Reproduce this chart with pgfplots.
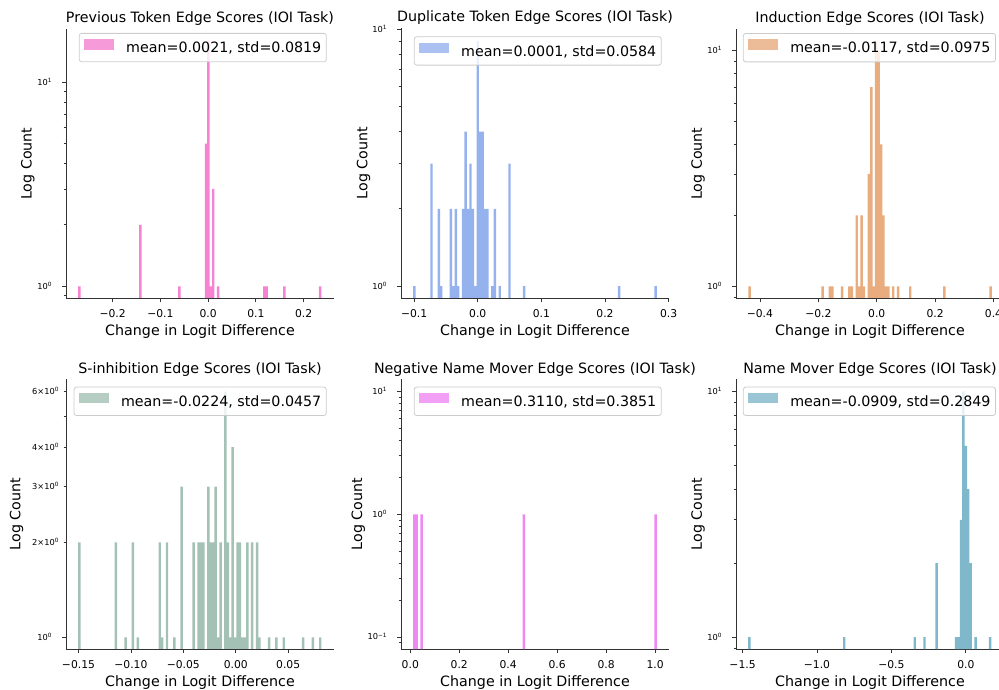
\documentclass[border=0pt]{standalone}
\usepackage{fontspec}
\setmainfont{DejaVu Sans}
\usepackage{pgfplots}
\pgfplotsset{compat=1.18}
\definecolor{c1}{RGB}{246,130,209}
\definecolor{c2}{RGB}{150,178,238}
\definecolor{c3}{RGB}{232,172,127}
\definecolor{c4}{RGB}{164,193,182}
\definecolor{c5}{RGB}{238,137,243}
\definecolor{c6}{RGB}{128,184,203}
\definecolor{spine}{RGB}{51,51,51}
\definecolor{legframe}{RGB}{204,204,204}
\newcommand\lfont{\fontsize{14.3}{17}\selectfont}
\newcommand\xfont{\fontsize{10.8}{13}\selectfont}
\newcommand\yfont{\fontsize{8.3}{10}\selectfont}
\newcommand\tsup[1]{\textsuperscript{#1}}
\pgfplotsset{
  histax/.style={
    scale only axis, width=268bp,
    axis x line*=bottom, axis y line*=left,
    axis line style={-, draw=spine, line width=0.8bp},
    every tick/.append style={draw=spine, line width=0.8bp},
    tick align=outside,
    major tick length=4.2bp, minor tick length=2.4bp,
    xlabel={Change in Logit Difference}, ylabel={Log Count},
    xlabel style={font=\lfont, at={(axis description cs:0.5,-0.1400)}, anchor=base},
    ylabel style={font=\lfont, anchor=base},
    every axis title/.style={at={(axis description cs:0.5,1)}, anchor=base, font=\lfont},
    xticklabel style={font=\xfont, anchor=base, inner sep=0pt},
    xticklabel shift=15.5bp,
    yticklabel style={font=\yfont, anchor=east, inner sep=0pt, text height=6bp, text depth=0bp},
    yticklabel shift=9.5bp,
    legend cell align=left,
    legend style={font=\lfont, draw=legframe, line width=0.8bp, rounded corners=2.5bp,
      fill=white, fill opacity=0.8, draw opacity=1, text opacity=1,
      inner xsep=5bp, inner ysep=6bp, anchor=north east,
      nodes={inner sep=0pt, text height=11bp, text depth=3bp}},
  },
}
\newcommand\legimg{\fill[sharp corners] (-3bp,-1bp) rectangle (27bp,9.4bp); \path (39bp,0bp);}
\begin{document}
\begin{tikzpicture}
% ---------------- Panel 1
\begin{axis}[histax, ymode=log, log origin y=infty, at={(66bp,392bp)}, height=268.5bp,
  xmin=-0.2975, xmax=0.2635, ymin=0.876, ymax=18.16,
  xtick={-0.2,-0.1,0,0.1,0.2}, xticklabels={−0.2,−0.1,0.0,0.1,0.2},
  ytick={1,10}, yticklabels={10\tsup{0},10\tsup{1}}, minor ytick={0.9,2,3,4,5,6,7,8,9},
  title={Previous Token Edge Scores (IOI Task)},
  title style={at={(axis description cs:0.5,1.026)}},
  ylabel style={at={(axis description cs:-0.1287,0.5)}},
  legend style={at={(axis description cs:0.9728,0.987)}},
]
\addplot[ybar, bar width=0.0051, fill=c1, draw=none, legend image code/.code={\legimg}] coordinates {
(-0.2695,1) (-0.142,2) (-0.060,1) (-0.0045,5) (0.0005,16) (0.0056,1) (0.0107,3) (0.021,1) (0.1175,1) (0.1226,1) (0.1595,1) (0.2345,1)};
\addlegendentry{mean=0.0021, std=0.0819}
\end{axis}
% ---------------- Panel 2
\begin{axis}[histax, ymode=log, log origin y=infty, at={(401bp,392bp)}, height=269.5bp,
  xmin=-0.1207, xmax=0.3006, ymin=0.900, ymax=10.07,
  xtick={-0.1,0,0.1,0.2,0.3}, xticklabels={−0.1,0.0,0.1,0.2,0.3},
  ytick={1,10}, yticklabels={10\tsup{0},10\tsup{1}}, minor ytick={2,3,4,5,6,7,8,9},
  title={Duplicate Token Edge Scores (IOI Task)},
  title style={at={(axis description cs:0.5,1.026)}},
  ylabel style={at={(axis description cs:-0.1257,0.5)}},
  legend style={at={(axis description cs:0.9728,0.971)}},
]
\addplot[ybar, bar width=0.0038, fill=c2, draw=none, legend image code/.code={\legimg}] coordinates {
(-0.0996,1) (-0.0728,3) (-0.0613,2) (-0.0575,1) (-0.0422,2) (-0.0383,1) (-0.0345,2) (-0.0307,1)
(-0.0230,2) (-0.0192,4) (-0.0153,2) (-0.0115,3) (-0.0077,2) (-0.0039,1) (0.0000,9) (0.0038,4)
(0.0076,4) (0.0115,2) (0.0153,2) (0.0230,1) (0.0268,2) (0.0345,1) (0.0498,3) (0.0728,1)
(0.2221,1) (0.2796,1)};
\addlegendentry{mean=0.0001, std=0.0584}
\end{axis}
% ---------------- Panel 3
\begin{axis}[histax, ymode=log, log origin y=infty, at={(736bp,392bp)}, height=268.7bp,
  xmin=-0.482, xmax=0.436, ymin=0.892, ymax=12.33,
  xtick={-0.4,-0.2,0,0.2,0.4}, xticklabels={−0.4,−0.2,0.0,0.2,0.4},
  ytick={1,10}, yticklabels={10\tsup{0},10\tsup{1}}, minor ytick={0.9,2,3,4,5,6,7,8,9},
  title={Induction Edge Scores (IOI Task)},
  title style={at={(axis description cs:0.5,1.026)}},
  ylabel style={at={(axis description cs:-0.1269,0.5)}},
  legend style={at={(axis description cs:0.970,0.986)}},
]
\addplot[ybar, bar width=0.0083, fill=c3, draw=none, legend image code/.code={\legimg}] coordinates {
(-0.4355,1) (-0.1853,1) (-0.1603,1) (-0.1519,1) (-0.1186,1) (-0.0936,1) (-0.0852,1) (-0.0685,2)
(-0.0602,1) (-0.0519,2) (-0.0435,1) (-0.0268,3) (-0.0185,7) (-0.0102,1) (-0.0018,11) (0.0065,10)
(0.0149,4) (0.0232,2) (0.0316,1) (0.0399,1) (0.0566,1) (0.0732,1) (0.1149,1) (0.2317,1) (0.3902,1)};
\addlegendentry{mean=-0.0117, std=0.0975}
\end{axis}
% ---------------- Panel 4
\begin{axis}[histax, ymode=log, log origin y=infty, at={(66bp,41bp)}, height=270bp,
  xmin=-0.1619, xmax=0.0937, ymin=0.918, ymax=6.58,
  xtick={-0.15,-0.10,-0.05,0,0.05}, xticklabels={−0.15,−0.10,−0.05,0.00,0.05},
  ytick={1}, yticklabels={10\tsup{0}}, minor ytick={5},
  extra y ticks={2,3,4,6},
  extra y tick labels={2×10\tsup{0},3×10\tsup{0},4×10\tsup{0},6×10\tsup{0}},
  extra y tick style={major tick length=2.4bp, yticklabel shift=4.3bp},
  title={S-inhibition Edge Scores (IOI Task)},
  title style={at={(axis description cs:0.5,1.022)}},
  ylabel style={at={(axis description cs:-0.1705,0.5)}},
  legend style={at={(axis description cs:0.9728,0.9715)}},
]
\addplot[ybar, bar width=0.00232, fill=c4, draw=none, legend image code/.code={\legimg}] coordinates {
(-0.1491,2) (-0.1143,2) (-0.1050,1) (-0.0981,2) (-0.0934,1) (-0.0725,2) (-0.0702,1) (-0.0656,2)
(-0.0586,1) (-0.0517,3) (-0.0401,2) (-0.0354,2) (-0.0331,2) (-0.0308,2) (-0.0261,3) (-0.0238,2)
(-0.0215,2) (-0.0192,3) (-0.0169,1) (-0.0145,2) (-0.0099,6) (-0.0076,2) (-0.0053,1) (-0.0030,4)
(-0.0006,1) (0.0017,2) (0.0040,2) (0.0063,1) (0.0087,1) (0.0110,2) (0.0156,2) (0.0203,2)
(0.0226,1) (0.0319,1) (0.0388,1) (0.0458,1) (0.0643,1) (0.0736,1) (0.0806,1)};
\addlegendentry{mean=-0.0224, std=0.0457}
\end{axis}
% ---------------- Panel 5
\begin{axis}[histax, ymode=log, log origin y=infty, at={(401bp,41bp)}, height=270bp,
  xmin=-0.038, xmax=1.057, ymin=0.0798, ymax=12.68,
  xtick={0,0.2,0.4,0.6,0.8,1.0}, xticklabels={0.0,0.2,0.4,0.6,0.8,1.0},
  ytick={0.1,1,10}, yticklabels={10\tsup{−1},10\tsup{0},10\tsup{1}},
  minor ytick={0.09,0.2,0.3,0.4,0.5,0.6,0.7,0.8,0.9,2,3,4,5,6,7,8,9},
  title={Negative Name Mover Edge Scores (IOI Task)},
  title style={at={(axis description cs:0.5,1.022)}},
  ylabel style={at={(axis description cs:-0.1455,0.5)}},
  legend style={at={(axis description cs:0.9728,0.9715)}},
]
\addplot[ybar, bar width=0.00996, fill=c5, draw=none, legend image code/.code={\legimg}] coordinates {
(0.016,1) (0.026,1) (0.046,1) (0.464,1) (1.002,1)};
\addlegendentry{mean=0.3110, std=0.3851}
\end{axis}
% ---------------- Panel 6
\begin{axis}[histax, ymode=log, log origin y=infty, at={(736bp,41bp)}, height=270bp,
  xmin=-1.544, xmax=0.256, ymin=0.894, ymax=11.23,
  xtick={-1.5,-1,-0.5,0}, xticklabels={−1.5,−1.0,−0.5,0.0},
  ytick={1,10}, yticklabels={10\tsup{0},10\tsup{1}}, minor ytick={0.9,2,3,4,5,6,7,8,9},
  title={Name Mover Edge Scores (IOI Task)},
  title style={at={(axis description cs:0.5,1.022)}},
  ylabel style={at={(axis description cs:-0.1269,0.5)}},
  legend style={at={(axis description cs:0.970,0.9715)}},
]
\addplot[ybar, bar width=0.0163, fill=c6, draw=none, legend image code/.code={\legimg}] coordinates {
(-1.4538,1) (-0.8169,1) (-0.3434,1) (-0.2780,1) (-0.1964,2) (-0.0658,1) (-0.0494,1) (-0.0331,3)
(-0.0168,10) (-0.0004,6) (0.0159,4) (0.0323,2) (0.0649,1) (0.1629,1)};
\addlegendentry{mean=-0.0909, std=0.2849}
\end{axis}
\pgfresetboundingbox
\path[use as bounding box] (0bp,0bp) rectangle (999bp,690bp);
\end{tikzpicture}
\end{document}
